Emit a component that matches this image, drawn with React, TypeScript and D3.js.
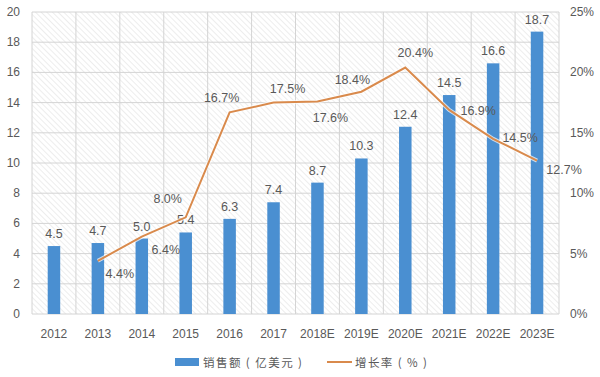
import React from "react";
import * as d3 from "d3";

const years = ["2012","2013","2014","2015","2016","2017","2018E","2019E","2020E","2021E","2022E","2023E"];
const sales = [4.5,4.7,5.0,5.4,6.3,7.4,8.7,10.3,12.4,14.5,16.6,18.7];
const growth: (number|null)[] = [null,4.4,6.4,8.0,16.7,17.5,17.6,18.4,20.4,16.9,14.5,12.7];
// label placement for growth labels: [dx, dy]
const growthLabelPos: [number, number][] = [[0,0],[22,13],[24,13],[-18,-18],[-8,-14],[14,-14],[13,17],[-9,-12],[10,-15],[29,1],[27,-1],[27,9]];
const leftTicks = [0,2,4,6,8,10,12,14,16,18,20];
const rightTicks = [0,5,10,15,20,25];

const W = 600, H = 377;
const left = 32, right = 559, top = 12, bottom = 314;

export default function App() {
  const x = d3.scaleBand<string>().domain(years).range([left, right]);
  const y = d3.scaleLinear().domain([0, 20]).range([bottom, top]);
  const y2 = d3.scaleLinear().domain([0, 25]).range([bottom, top]);
  const barW = 12.5;
  const cx = (d: string) => (x(d) as number) + x.bandwidth() / 2;
  const pts = years.map((d, i) => [d, growth[i]] as [string, number | null]).filter(p => p[1] !== null) as [string, number][];
  const line = d3.line<[string, number]>().x(p => cx(p[0])).y(p => y2(p[1]));
  const txt = "#595959";
  const font = "'Liberation Sans', Arial, sans-serif";
  const cjk = "'Noto Sans CJK SC', sans-serif";
  return (
    <svg width={W} height={H} style={{ position: "absolute", left: 0, top: 0, background: "#fff" }} fontFamily={font}>
      <defs>
        <pattern id="hatch" width="4" height="4" patternUnits="userSpaceOnUse" patternTransform="rotate(-45)">
          <line x1="0" y1="0" x2="0" y2="4" stroke="#dcdcdc" strokeWidth="1" />
        </pattern>
      </defs>
      <rect x={left} y={top} width={right - left} height={bottom - top} fill="url(#hatch)" />
      {leftTicks.map(t => (
        <line key={"h" + t} x1={left} x2={right} y1={y(t)} y2={y(t)} stroke="#d4d4d4" strokeWidth={1} />
      ))}
      {years.map(d => (
        <line key={"v" + d} x1={x(d)} x2={x(d)} y1={top} y2={bottom} stroke="#d4d4d4" strokeWidth={1} />
      ))}
      <line x1={right} x2={right} y1={top} y2={bottom} stroke="#d4d4d4" />
      {years.map((d, i) => (
        <rect key={"b" + d} x={cx(d) - barW / 2} y={y(sales[i])} width={barW} height={bottom - y(sales[i])} fill="#4a8fd1" />
      ))}
      {years.map((d, i) => (
        <text key={"bl" + d} x={cx(d)} y={y(sales[i]) - 8} textAnchor="middle" fontSize={12.5} fill={txt}>{sales[i].toFixed(1)}</text>
      ))}
      <path d={line(pts) || ""} fill="none" stroke="#fff" strokeWidth={4} strokeOpacity={0.7} />
      <path d={line(pts) || ""} fill="none" stroke="#d98a4c" strokeWidth={2} />
      {years.map((d, i) => growth[i] === null ? null : (
        <text key={"gl" + d} x={cx(d) + growthLabelPos[i][0]} y={y2(growth[i] as number) + growthLabelPos[i][1] + 4} textAnchor="middle" fontSize={12.5} fill={txt}>{(growth[i] as number).toFixed(1)}%</text>
      ))}
      {leftTicks.map(t => (
        <text key={"lt" + t} x={20} y={y(t) + 4} textAnchor="end" fontSize={12} fill={txt}>{t}</text>
      ))}
      {rightTicks.map(t => (
        <text key={"rt" + t} x={570} y={y2(t) + 4} textAnchor="start" fontSize={12} fill={txt}>{t}%</text>
      ))}
      {years.map(d => (
        <text key={"xl" + d} x={cx(d)} y={338} textAnchor="middle" fontSize={12} fill={txt}>{d}</text>
      ))}
      <rect x={175} y={358} width={24} height={8} fill="#4a8fd1" />
      <text x={203} y={366.5} fontSize={11.5} fill={txt} fontFamily={cjk} textLength={99} lengthAdjust="spacing">销售额 ( 亿美元 )</text>
      <line x1={327} x2={352} y1={362} y2={362} stroke="#d98a4c" strokeWidth={2} />
      <text x={355} y={366.5} fontSize={11.5} fill={txt} fontFamily={cjk} textLength={72} lengthAdjust="spacing">增长率 ( % )</text>
    </svg>
  );
}
